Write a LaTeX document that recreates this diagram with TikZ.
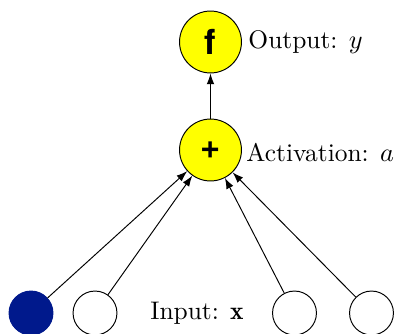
\documentclass[tikz,border=0pt]{standalone}
\usepackage{fontspec}
\newfontfamily\unitfont{TeX Gyre Heros}
\usetikzlibrary{arrows.meta}
\definecolor{unitfill}{RGB}{255,255,0}
\definecolor{biasfill}{RGB}{0,25,140}
\begin{document}
\begin{tikzpicture}[x=0.4167pt,y=-0.4167pt,
  unit/.style={circle,draw,fill=unitfill,minimum size=25.8pt,inner sep=0pt,
    font=\unitfont\bfseries\Large},
  inp/.style={circle,draw,fill=white,minimum size=18.3pt,inner sep=0pt},
  lbl/.style={anchor=west,inner sep=0pt,font=\fontsize{10.6pt}{13pt}\selectfont},
  conn/.style={-{Latex[length=4.5pt,width=3.2pt]}}]
\useasboundingbox (0,0) rectangle (400,334);
% units
\node[unit] (out) at (210.5,42) {f};
\node[unit] (act) at (210.5,150) {+};
% inputs
\node[inp,fill=biasfill,draw=biasfill] (x0) at (31,313) {};
\node[inp] (x1) at (95,313) {};
\node[inp] (x2) at (294.5,313) {};
\node[inp] (x3) at (371.5,313) {};
% labels
\node[lbl] (lout) at (248,42) {Output: $y$};
\node[lbl] (lact) at (246,153) {Activation: $a$};
\node[lbl,anchor=center] (lin) at (197,313) {Input: $\mathbf{x}$};
% connections
\foreach \s in {x0,x1,x2,x3} \draw[conn] (\s) -- (act);
\draw[conn] (act) -- (out);
\end{tikzpicture}
\end{document}
